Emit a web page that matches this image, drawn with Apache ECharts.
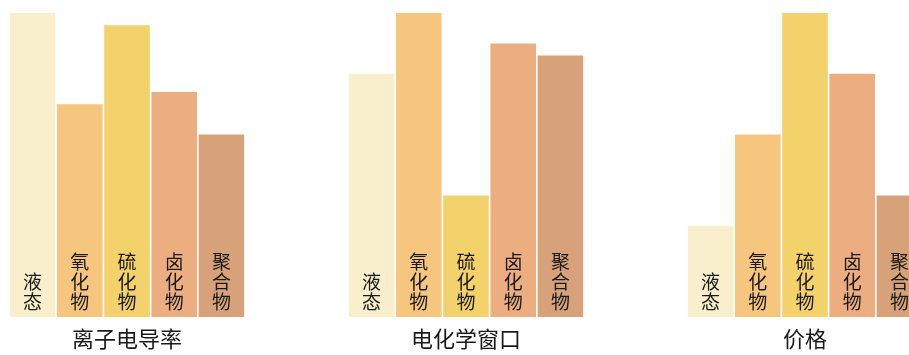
<!DOCTYPE html>
<html>
<head>
<meta charset="utf-8">
<script src="https://cdn.jsdelivr.net/npm/echarts@6/dist/echarts.min.js"></script>
<style>html,body{margin:0;padding:0;background:#fff;overflow:hidden;width:909px;height:355px;}#c{width:940px;height:355px;}</style>
</head>
<body>
<div id="c"></div>
<script>
var categories = ['液态', '氧化物', '硫化物', '卤化物', '聚合物'];
var groupNames = ['离子电导率', '电化学窗口', '价格'];
var conductivity = [10, 7, 9.6, 7.4, 6];
var echemWindow = [8, 10, 4, 9, 8.6];
var price = [3, 6, 10, 8, 4];
var colors = ['#F9EFCC', '#F6C67F', '#F3D16B', '#ECAD81', '#D7A27A'];

var groupValues = [conductivity, echemWindow, price];
var gridLefts = [9, 348, 687];
var font = '"Noto Sans CJK SC", "Noto Sans", sans-serif';

var chart = echarts.init(document.getElementById('c'), null, {renderer: 'canvas'});
var grids = [], xAxes = [], yAxes = [], series = [];
groupValues.forEach(function (vals, g) {
  grids.push({left: gridLefts[g], width: 236, top: 13, height: 307, containLabel: false});
  xAxes.push({
    type: 'category', gridIndex: g, data: categories,
    axisLine: {show: false}, axisTick: {show: false}, axisLabel: {show: false},
    name: groupNames[g], nameLocation: 'middle', nameGap: 11,
    nameTextStyle: {fontSize: 22, color: '#1a1a1a', fontFamily: font, verticalAlign: 'top'}
  });
  yAxes.push({type: 'value', gridIndex: g, min: 0, max: 10, show: false, splitLine: {show: false}});
  series.push({
    type: 'bar', xAxisIndex: g, yAxisIndex: g,
    barCategoryGap: '3.5%',
    data: vals.map(function (v, i) { return {value: v, itemStyle: {color: colors[i]}}; }),
    label: {
      show: true, position: 'insideBottom', distance: 5,
      formatter: function (p) { return p.name.split('').join('\n'); },
      fontSize: 19, lineHeight: 20, color: '#1a1a1a', fontFamily: font
    },
    animation: false
  });
});
chart.setOption({
  animation: false,
  grid: grids, xAxis: xAxes, yAxis: yAxes, series: series
});
</script>
</body>
</html>
